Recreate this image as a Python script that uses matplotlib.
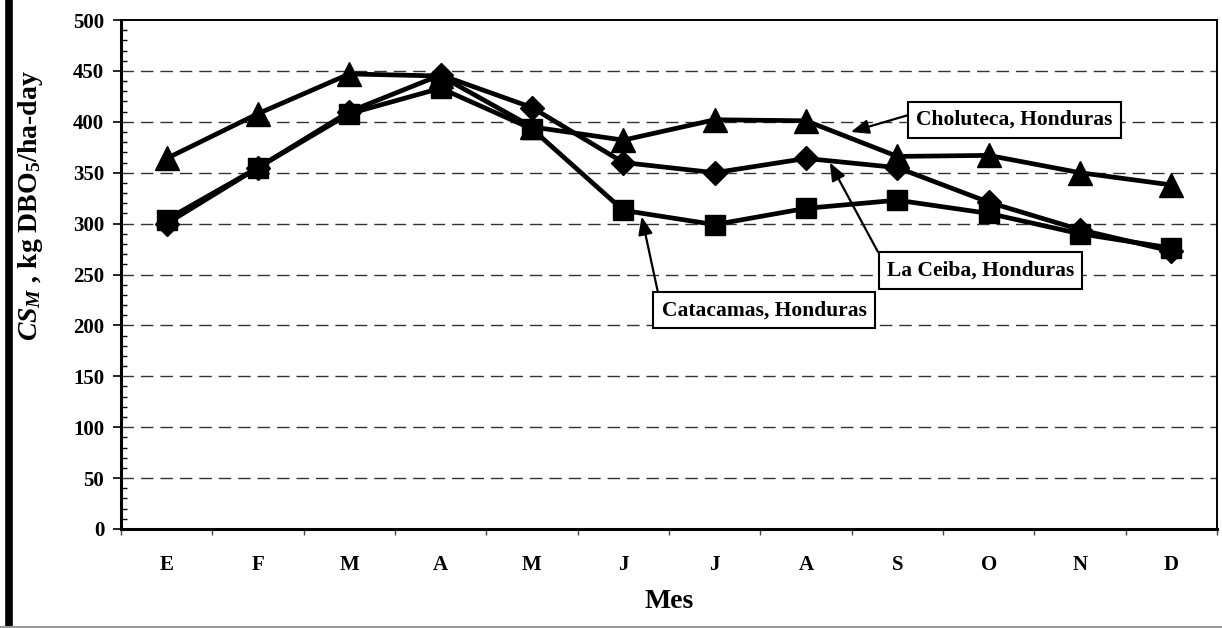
import matplotlib
matplotlib.use("Agg")
import matplotlib.pyplot as plt
from matplotlib.lines import Line2D
from matplotlib.ticker import MultipleLocator, FixedLocator, NullFormatter
import numpy as np

months = ['E', 'F', 'M', 'A', 'M', 'J', 'J', 'A', 'S', 'O', 'N', 'D']
choluteca = [364, 408, 447, 445, 395, 382, 402, 401, 366, 367, 350, 338]
la_ceiba = [300, 355, 410, 446, 414, 360, 350, 364, 355, 321, 294, 273]
catacamas = [304, 355, 408, 433, 393, 313, 299, 315, 323, 310, 290, 276]

plt.rcParams['font.family'] = ['Liberation Serif', 'DejaVu Serif']
plt.rcParams['font.weight'] = 'bold'
plt.rcParams['mathtext.fontset'] = 'custom'
plt.rcParams['mathtext.rm'] = 'Liberation Serif:bold'
plt.rcParams['mathtext.it'] = 'Liberation Serif:bold:italic'
plt.rcParams['mathtext.bf'] = 'Liberation Serif:bold'

fig = plt.figure(figsize=(12.22, 6.28), dpi=100)
ax = fig.add_axes([121 / 1222, 99 / 628, 1096 / 1222, 509 / 628])

x = np.arange(len(months))
ax.plot(x, choluteca, color='black', lw=3.4, marker='^', ms=17, zorder=3)
ax.plot(x, la_ceiba, color='black', lw=3.4, marker='D', ms=12.5, zorder=3)
ax.plot(x, catacamas, color='black', lw=3.4, marker='s', ms=14, zorder=3)

ax.set_xlim(-0.5, len(months) - 0.5)
ax.set_ylim(0, 500)

# y axis
ax.yaxis.set_major_locator(MultipleLocator(50))
ax.yaxis.set_minor_locator(MultipleLocator(10))
ax.tick_params(axis='y', which='major', direction='out', length=6, width=1.2,
               pad=6, labelsize=15)
ax.tick_params(axis='y', which='minor', direction='in', length=4.5, width=1)
for v in range(50, 500, 50):
    ax.axhline(v, color='#333333', lw=1, ls=(0, (9, 5)), zorder=1)

# x axis: ticks on boundaries, labels at centres
ax.xaxis.set_major_locator(FixedLocator(np.arange(-0.5, len(months), 1.0)))
ax.xaxis.set_major_formatter(NullFormatter())
ax.xaxis.set_minor_locator(FixedLocator(x))
ax.set_xticklabels(months, minor=True)
ax.tick_params(axis='x', which='major', direction='out', length=4, width=1,
               color='#444444')
ax.tick_params(axis='x', which='minor', length=0, pad=19, labelsize=15)

for s in ['left', 'bottom']:
    ax.spines[s].set_linewidth(2.2)
for s in ['top', 'right']:
    ax.spines[s].set_linewidth(1.4)

ax.set_xlabel('Mes', fontsize=20, fontweight='bold')
ax.xaxis.set_label_coords(0.5, -0.118)
ax.set_ylabel(r'$CS_M$ , kg DBO$_{\mathrm{5}}$/ha-day', fontsize=20,
              fontweight='bold')
ax.yaxis.set_label_coords(-0.083, 0.635)
ax.yaxis.label.set_va('center')

box = dict(boxstyle='square,pad=0.38', fc='white', ec='black', lw=1.5)
arrow = dict(arrowstyle='-|>,head_length=0.7,head_width=0.28', color='black',
             lw=1.6, shrinkA=0, shrinkB=0)

ax.annotate('Choluteca, Honduras', xy=(7.49, 390), xytext=(9.28, 402),
            ha='center', va='center', fontsize=15.5, fontweight='bold',
            bbox=box, arrowprops=dict(arrow, relpos=(0, 0.85)), zorder=5)
ax.annotate('La Ceiba, Honduras', xy=(7.26, 360), xytext=(8.91, 254),
            ha='center', va='center', fontsize=15.5, fontweight='bold',
            bbox=box, arrowprops=dict(arrow, relpos=(0, 0.6)), zorder=5)
ax.annotate('Catacamas, Honduras', xy=(5.2, 307), xytext=(6.54, 215),
            ha='center', va='center', fontsize=15.5, fontweight='bold',
            bbox=box, arrowprops=dict(arrow, relpos=(0, 0.55)), zorder=5)

# frame pieces around the picture
fig.add_artist(Line2D([8.5 / 1222, 8.5 / 1222], [0, 1], color='black', lw=5.5))
fig.add_artist(Line2D([0, 1], [1.2 / 628, 1.2 / 628], color='#999999', lw=1.5))

fig.savefig('out.png', dpi=100)
